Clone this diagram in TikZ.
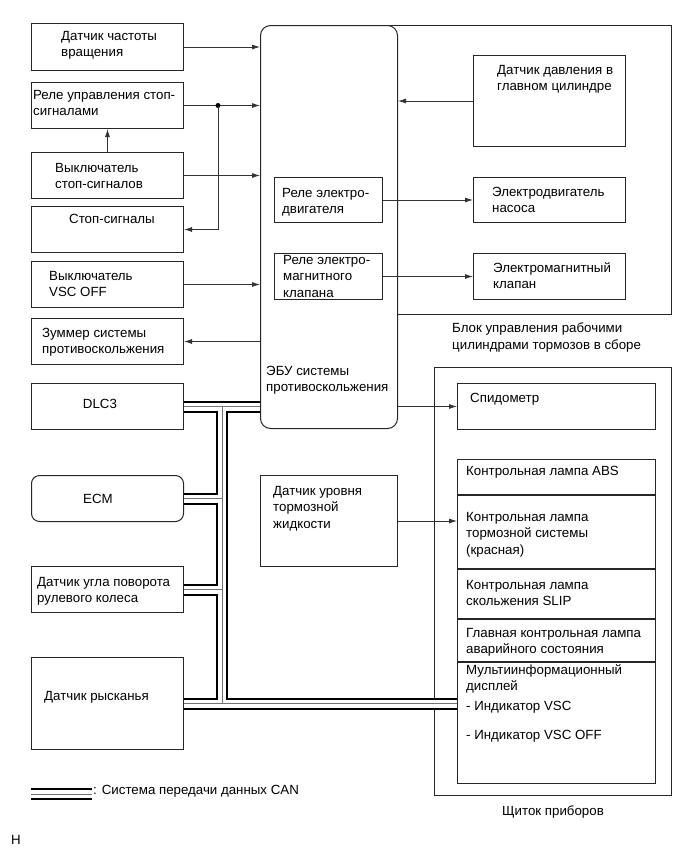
\documentclass[tikz,border=0pt]{standalone}
\usepackage{fontspec}
\setmainfont{Liberation Sans}
\usetikzlibrary{positioning,arrows.meta,calc}

\begin{document}
\begin{tikzpicture}[
  x=1pt, y=-1pt,
  font=\fontsize{13.3}{16.5}\selectfont,
  box/.style={draw=black!85, line width=1pt, anchor=north west, inner sep=0pt,
              minimum width=152pt, minimum height=46pt},
  inbox/.style={box, minimum width=108pt, minimum height=45pt},
  rbox/.style={box, minimum width=198pt},
  txt/.style={anchor=north west, inner sep=0pt, align=left, yshift=-3pt},
  frame/.style={draw=black!85, line width=1pt},
  arr/.style={-{Latex[length=8pt,width=5pt]}, black!80, line width=0.8pt},
  canbus/.style={line width=2pt, double=white, double distance=8pt},
  canmid/.style={black!55, line width=0.8pt}
]
\useasboundingbox (0,0) rectangle (690,855);

% ---- left column ----
\node[box, minimum height=47pt] (spdsens) at (31,23) {};
\node[txt] (spdsens-t) at (61,28) {Датчик частоты\\вращения};
\node[box] (brkrelay) at (31,82) {};
\node[txt] (brkrelay-t) at (33,87) {Реле управления стоп-\\сигналами};
\node[box] (stopsw) at (31,152) {};
\node[txt] (stopsw-t) at (55,160) {Выключатель\\стоп-сигналов};
\node[box] (stoplamp) at (31,206) {};
\node[txt] (stoplamp-t) at (69,211) {Стоп-сигналы};
\node[box] (vscsw) at (31,261) {};
\node[txt] (vscsw-t) at (49,268) {Выключатель\\VSC OFF};
\node[box] (buzzer) at (31,318) {};
\node[txt] (buzzer-t) at (42,325) {Зуммер системы\\противоскольжения};
\node[box] (dlc) at (31,383) {};
\node (dlc-t) at (100,404) {DLC3};
\node[box, rounded corners=8pt] (ecm) at (31,475) {};
\node (ecm-t) at (98,499) {ECM};
\node[box] (steer) at (31,566) {};
\node[txt] (steer-t) at (37,574) {Датчик угла поворота\\рулевого колеса};
\node[box, minimum height=92pt] (yaw) at (31,657) {};
\node[txt] (yaw-t) at (44,688) {Датчик рысканья};

% ---- ECU ----
\node[box, rounded corners=10pt, minimum width=137pt, minimum height=403pt] (ecu) at (260,25) {};
\node[txt] (ecu-t) at (266,363) {ЭБУ системы\\противоскольжения};
\node[inbox] (mrelay) at (274,177) {};
\node[txt] (mrelay-t) at (282,185) {Реле электро-\\двигателя};
\node[inbox, minimum height=46pt] (srelay) at (274,253) {};
\node[txt] (srelay-t) at (283,252) {Реле электро-\\магнитного\\клапана};

% ---- actuator assembly ----
\coordinate (actu-ne) at (671,25);
\coordinate (actu-se) at (671,314);
\draw[frame] ($(ecu.north east)+(-10,0)$) -- (actu-ne) -- (actu-se) -- (actu-se -| ecu.east);
\node[txt] (actu-t) at (452,320) {Блок управления рабочими\\цилиндрами тормозов в сборе};
\node[box, minimum height=91pt] (mcsens) at (473,55) {};
\node[txt] (mcsens-t) at (497,62) {Датчик давления в\\главном цилиндре};
\node[box, minimum height=45pt] (pump) at (473,177) {};
\node[txt] (pump-t) at (492,184) {Электродвигатель\\насоса};
\node[box] (solv) at (473,253) {};
\node[txt] (solv-t) at (493,259) {Электромагнитный\\клапан};

% ---- fluid level sensor ----
\node[box, minimum width=137pt, minimum height=91pt] (fluid) at (260,475) {};
\node[txt] (fluid-t) at (273,483) {Датчик уровня\\тормозной\\жидкости};

% ---- combination meter ----
\node[box, minimum width=237pt, minimum height=428pt] (panel) at (434,367) {};
\node[below=6pt of panel] (panel-t) {Щиток приборов};
\node[rbox] (speedo) at (457,383) {};
\node[txt] (speedo-t) at (470,390) {Спидометр};
\node[rbox, minimum height=35pt] (lampabs) at (457,459) {};
\node[rbox, minimum height=73pt, below=0pt of lampabs] (lampbrk) {};
\node[rbox, minimum height=49pt, below=0pt of lampbrk] (lampslip) {};
\node[rbox, minimum height=42pt, below=0pt of lampslip] (lampmil) {};
\node[rbox, minimum height=121pt, below=0pt of lampmil] (multi) {};
\node[txt] (lampabs-t) at (466,463) {Контрольная лампа ABS};
\node[txt] (lampbrk-t) at (466,509) {Контрольная лампа\\тормозной системы\\(красная)};
\node[txt] (lampslip-t) at (466,577) {Контрольная лампа\\скольжения SLIP};
\node[txt] (lampmil-t) at (466,625) {Главная контрольная лампа\\аварийного состояния};
\node[txt] (multi-t) at (466,661)
  {Мультиинформационный\\дисплей\\[3pt]- Индикатор VSC\\[13pt]- Индикатор VSC OFF};

% ---- signal lines ----
\coordinate (lampj) at ($(brkrelay.east)+(34,0)$);
\draw[arr] (spdsens.east) -- (spdsens.east -| ecu.west);
\draw[arr] (brkrelay.east) -- (brkrelay.east -| ecu.west);
\fill[black] (lampj) circle (2.5pt);
\draw[arr] (lampj) |- (stoplamp.east);
\draw[arr] (stopsw.north) -- (brkrelay.south);
\draw[arr] (stopsw.east) -- (stopsw.east -| ecu.west);
\draw[arr] (vscsw.east) -- (vscsw.east -| ecu.west);
\draw[arr] (ecu.west |- buzzer.east) -- (buzzer.east);
\draw[arr] (mcsens.west) -- (mcsens.west -| ecu.east);
\draw[arr] (mrelay.east) -- (pump.west);
\draw[arr] (srelay.east) -- (solv.west);
\draw[arr] (ecu.east |- speedo.west) -- (speedo.west);
\draw[arr] (fluid.east) -- (fluid.east -| lampbrk.west);

% ---- CAN bus ----
\coordinate (bus-top) at ($(dlc.east)+(38,0)$);
\coordinate (bus-bot) at (bus-top |- yaw.east);
\draw[canbus] (dlc.east) -- (dlc.east -| ecu.west)
  (bus-top) -- (bus-bot)
  (ecm.east) -- (ecm.east -| bus-top)
  (steer.east) -- (steer.east -| bus-top)
  (yaw.east) -- (yaw.east -| multi.west);
\draw[canmid] (dlc.east) -- (dlc.east -| ecu.west)
  (bus-top) -- (bus-bot)
  (ecm.east) -- (ecm.east -| bus-top)
  (steer.east) -- (steer.east -| bus-top)
  (yaw.east) -- (yaw.east -| multi.west);

% ---- legend ----
\coordinate (leg-a) at (31,794);
\coordinate (leg-b) at (92,794);
\draw[canbus] (leg-a) -- (leg-b);
\draw[canmid] (leg-a) -- (leg-b);
\node[anchor=west, inner sep=0pt] (leg-t) at (93,791) {: Система передачи данных CAN};
\node[anchor=west, inner sep=0pt] (code) at (11,840) {H};
\end{tikzpicture}
\end{document}
